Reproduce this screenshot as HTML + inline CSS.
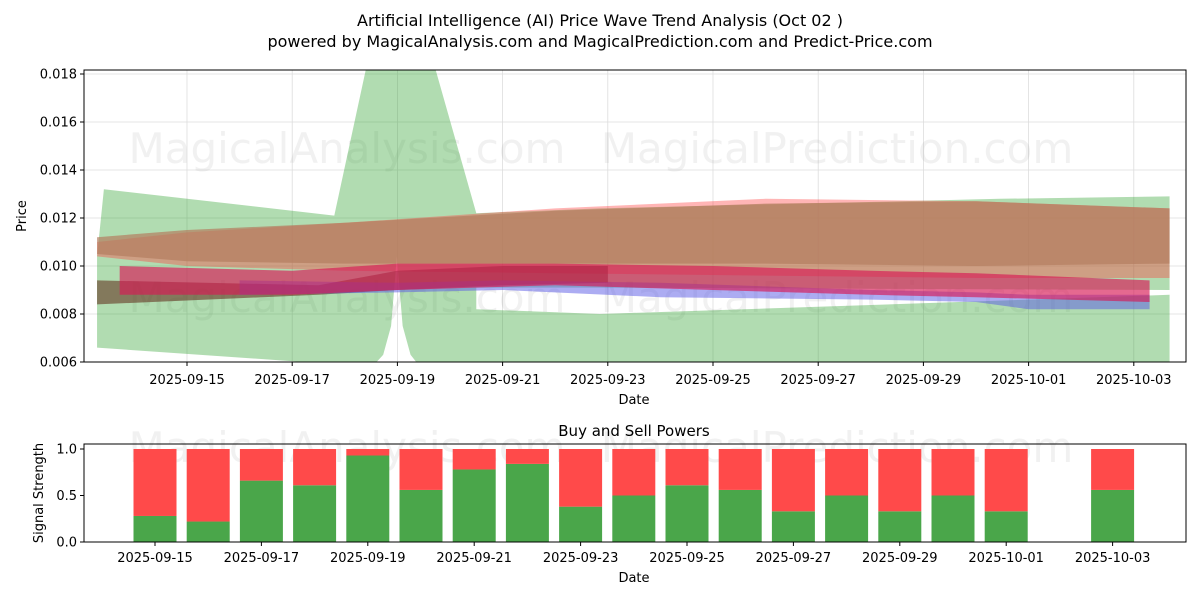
<!DOCTYPE html>
<html><head><meta charset="utf-8"><style>
body{margin:0;background:#fff;font-family:"Liberation Sans","DejaVu Sans",sans-serif}
svg text{font-family:"DejaVu Sans","Liberation Sans",sans-serif;fill:#000}
</style></head><body>
<svg id="c" width="1200" height="600" xmlns="http://www.w3.org/2000/svg"></svg>
<script>
// ---- top chart data (day offsets from 2025-09-15) ----
const greenDays=[-1.58,2.8,3.48,4.62,5.5,7.85,15.46,18.68,18.68,7.85,5.5,5.5,7.85,12,18.68,18.68,4.43,4.25,4.1,3.99,3.88,3.73,3.52,-1.71,-1.71];
const greenVals=[.0132,.0121,.0190,.0190,.0122,.0124,.0128,.0129,.0090,.0091,.0091,.0082,.0080,.0083,.0088,.0058,.0058,.0063,.0075,.0104,.0075,.0063,.0058,.0066,.0104];
const pinkDays=[-1.71,0,3,7,11,15,18.68];
const pinkHi=[.0110,.0114,.0118,.0124,.0128,.0127,.0124];
const pinkLo=[.0104,.0100,.0098,.0097,.0096,.0095,.0095];
const brownDays=[-1.71,0,3,7,11,15,18.68];
const brownHi=[.0112,.0115,.0118,.0123,.0126,.0127,.0124];
const brownLo=[.0105,.0102,.0101,.0101,.0101,.0100,.0101];
const darkDays=[-1.71,2.5,4,6,8];
const darkHi=[.0094,.0092,.0098,.0100,.0100];
const darkLo=[.0084,.0088,.0090,.0092,.0093];
const blueDays=[1,4,6,9,13,15,16,18.3];
const blueHi=[.0094,.0093,.0094,.0093,.0090,.0089,.0088,.0088];
const blueLo=[.0088,.0089,.0090,.0087,.0086,.0085,.0082,.0082];
const crimDays=[-1.28,2,4,7,10,13,15,18.3];
const crimHi=[.0100,.0098,.0101,.0101,.0100,.0098,.0097,.0094];
const crimLo=[.0088,.0088,.0090,.0092,.0090,.0088,.0087,.0085];
const topTickDays=[0,2,4,6,8,10,12,14,16,18];
const topTickLabels=["2025-09-15","2025-09-17","2025-09-19","2025-09-21","2025-09-23","2025-09-25","2025-09-27","2025-09-29","2025-10-01","2025-10-03"];
const yTicks=[0.006,0.008,0.010,0.012,0.014,0.016,0.018];
// ---- bottom chart data ----
const barDays=[0,1,2,3,4,5,6,7,8,9,10,11,12,13,14,15,16,18];
const buyVals=[0.28,0.22,0.66,0.61,0.93,0.56,0.78,0.84,0.38,0.5,0.61,0.56,0.33,0.5,0.33,0.5,0.33,0.56];
const sellVals=[0.72,0.78,0.34,0.39,0.07,0.44,0.22,0.16,0.62,0.5,0.39,0.44,0.67,0.5,0.67,0.5,0.67,0.44];

const NS="http://www.w3.org/2000/svg",svg=document.getElementById('c');
function mk(t,a,p){const e=document.createElementNS(NS,t);for(const k in a)e.setAttribute(k,a[k]);(p||svg).appendChild(e);return e;}
const X=d=>187+52.6*d, Y=v=>362-(v-0.006)*24000;
const BX=d=>155+53.2*d, BY=v=>542-v*93;
const T1={x:84,y:70,w:1102,h:292}, T2={x:84,y:444,w:1102,h:98};

let t=mk('text',{x:600,y:26,'text-anchor':'middle','font-size':16});t.textContent="Artificial Intelligence (AI) Price Wave Trend Analysis (Oct 02 )";

t=mk('text',{x:600,y:47,'text-anchor':'middle','font-size':16});t.textContent="powered by MagicalAnalysis.com and MagicalPrediction.com and Predict-Price.com";


const defs=mk('defs',{});
const cp=mk('clipPath',{id:'cp1'},defs);mk('rect',{x:T1.x,y:T1.y,width:T1.w,height:T1.h},cp);

for(let i=0;i<topTickDays.length;i++){const x=X(topTickDays[i]);
 const g=mk('line',{x1:x,x2:x,y1:T1.y,y2:T1.y+T1.h,stroke:'#ddd','stroke-width':0.8});
 
 mk('line',{x1:x,x2:x,y1:T1.y+T1.h,y2:T1.y+T1.h+4,stroke:'#000'});
 const l=mk('text',{x:x,y:384,'text-anchor':'middle','font-size':13});l.textContent=topTickLabels[i];
 }
for(const v of yTicks){const y=Y(v);
 const g=mk('line',{x1:T1.x,x2:T1.x+T1.w,y1:y,y2:y,stroke:'#ddd','stroke-width':0.8});
 
 mk('line',{x1:T1.x-4,x2:T1.x,y1:y,y2:y,stroke:'#000'});
 const l=mk('text',{x:T1.x-7,y:y+4.5,'text-anchor':'end','font-size':13});l.textContent=v.toFixed(3);
 }

for(const [x,y,s] of [[347,163,"MagicalAnalysis.com"],[837,163,"MagicalPrediction.com"],[347,312,"MagicalAnalysis.com"],[837,312,"MagicalPrediction.com"],[347,462,"MagicalAnalysis.com"],[837,462,"MagicalPrediction.com"]]){
 const w=mk('text',{x:x,y:y,'text-anchor':'middle','font-size':42,style:'fill:rgba(150,150,150,0.13)'});w.textContent=s;
 }

const gB=mk('g',{'clip-path':'url(#cp1)'});
function band(days,hi,lo,fill,name){
 const pts=days.map((d,i)=>X(d)+','+Y(hi[i])).concat(days.map((d,i)=>X(d)+','+Y(lo[i])).reverse());
 const p=mk('polygon',{points:pts.join(' '),fill:fill},gB);
 }
const gp=mk('polygon',{points:greenDays.map((d,i)=>X(d)+','+Y(greenVals[i])).join(' '),fill:'rgba(44,160,44,0.37)'},gB);

band(pinkDays,pinkHi,pinkLo,'rgba(255,60,60,0.38)','pink-band');
band(brownDays,brownHi,brownLo,'rgba(180,125,95,0.7)','brown-band');
band(darkDays,darkHi,darkLo,'rgba(100,55,35,0.6)','dark-brown-band');
band(blueDays,blueHi,blueLo,'rgba(90,90,230,0.5)','blue-band');
band(crimDays,crimHi,crimLo,'rgba(215,25,85,0.65)','crimson-band');

let f=mk('rect',{x:T1.x,y:T1.y,width:T1.w,height:T1.h,fill:'none',stroke:'#000','stroke-width':1});

t=mk('text',{x:634,y:404,'text-anchor':'middle','font-size':13});t.textContent="Date";

t=mk('text',{x:26,y:216,'text-anchor':'middle','font-size':13,transform:'rotate(-90 26 216)'});t.textContent="Price";


t=mk('text',{x:634,y:436,'text-anchor':'middle','font-size':15});t.textContent="Buy and Sell Powers";

for(let i=0;i<barDays.length;i++){const x=BX(barDays[i])-21.5;
 const b=mk('rect',{x:x,y:BY(buyVals[i]),width:43,height:BY(0)-BY(buyVals[i]),fill:'#4aa64a'});
 
 const s=mk('rect',{x:x,y:BY(buyVals[i]+sellVals[i]),width:43,height:BY(buyVals[i])-BY(buyVals[i]+sellVals[i]),fill:'#ff4a4a'});
 }
for(let i=0;i<topTickDays.length;i++){const x=BX(topTickDays[i]);
 mk('line',{x1:x,x2:x,y1:T2.y+T2.h,y2:T2.y+T2.h+4,stroke:'#000'});
 const l=mk('text',{x:x,y:562,'text-anchor':'middle','font-size':13});l.textContent=topTickLabels[i];
 }
for(const v of [0,0.5,1]){const y=BY(v);
 mk('line',{x1:T2.x-4,x2:T2.x,y1:y,y2:y,stroke:'#000'});
 const l=mk('text',{x:T2.x-7,y:y+4.5,'text-anchor':'end','font-size':13});l.textContent=v.toFixed(1);
 }
f=mk('rect',{x:T2.x,y:T2.y,width:T2.w,height:T2.h,fill:'none',stroke:'#000','stroke-width':1});

t=mk('text',{x:634,y:582,'text-anchor':'middle','font-size':13});t.textContent="Date";

t=mk('text',{x:43,y:493,'text-anchor':'middle','font-size':13,transform:'rotate(-90 43 493)'});t.textContent="Signal Strength";

</script>
</body></html>
